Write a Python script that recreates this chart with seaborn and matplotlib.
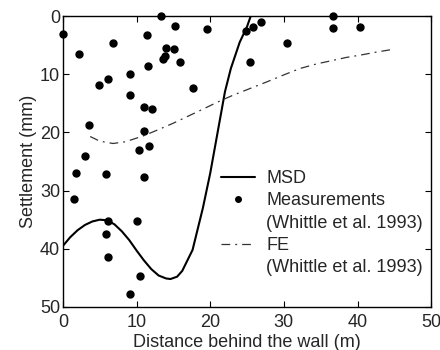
import matplotlib
matplotlib.use("Agg")
import matplotlib.pyplot as plt
from matplotlib.lines import Line2D
import seaborn as sns
import pandas as pd

# ---------------------------------------------
# Data
# ---------------------------------------------
meas_x = [0.05, 2.2, 6.75, 13.3, 15.2, 19.5, 11.4, 14.0, 15.1, 13.8, 13.6, 15.9,
          11.5, 9.15, 6.1, 4.85, 9.15, 17.6, 11.0, 12.1, 3.6, 11.0, 11.7, 10.3,
          3.0, 1.8, 5.9, 11.0, 1.55, 6.1, 10.1, 5.9, 6.1, 10.4, 9.05,
          24.8, 25.8, 26.9, 25.4, 30.4, 36.6, 36.6, 40.3]
meas_y = [3.0, 6.6, 4.6, 0.0, 1.7, 2.2, 3.3, 5.4, 5.6, 6.8, 7.3, 7.9,
          8.5, 9.9, 10.8, 11.9, 13.5, 12.3, 15.7, 16.0, 18.8, 19.8, 22.3, 23.1,
          24.1, 26.9, 27.2, 27.6, 31.4, 35.3, 35.2, 37.5, 41.4, 44.7, 47.8,
          2.6, 1.8, 1.0, 7.9, 4.7, 0.0, 2.0, 1.9]

msd_x = [0, 1, 2, 3, 4, 5, 6, 7, 8, 9, 10, 11, 12, 13, 14, 14.6, 15.5, 16.2,
         17.6, 19, 20, 21, 22, 22.8, 24, 25, 25.5]
msd_y = [39.5, 38.0, 36.8, 35.9, 35.3, 35.0, 35.1, 35.8, 37.0, 38.5, 40.3, 42.0,
         43.5, 44.6, 45.1, 45.2, 44.8, 43.8, 40.2, 33.0, 27.0, 20.0, 13.0, 9.0,
         4.5, 1.8, 0.0]

fe_x = [3.7, 5, 6.8, 8.5, 10.9, 13, 15, 17, 19, 21.3, 23.1, 25.5, 27.7, 30,
        32.2, 34.5, 36.7, 38.5, 40.4, 42.5, 44.4]
fe_y = [20.7, 21.5, 21.9, 21.6, 20.6, 19.5, 18.4, 17.2, 16.0, 14.6, 13.6, 12.4,
        11.3, 10.1, 9.0, 8.2, 7.6, 7.1, 6.7, 6.2, 5.8]

ticks = [0, 10, 20, 30, 40, 50]
source = "(Whittle et al. 1993)"

# ---------------------------------------------
# Style
# ---------------------------------------------
sns.set_style("ticks")
plt.rcParams["font.family"] = ["Liberation Sans", "DejaVu Sans"]
plt.rcParams["font.size"] = 13

DASHDOT = (0, (7, 4, 1.5, 4))

fig = plt.figure(figsize=(4.4, 3.5), dpi=100)
ax = fig.add_axes([0.143, 0.123, 0.837, 0.831])

msd = pd.DataFrame({"x": msd_x, "y": msd_y})
fe = pd.DataFrame({"x": fe_x, "y": fe_y})
meas = pd.DataFrame({"x": meas_x, "y": meas_y})

sns.lineplot(data=msd, x="x", y="y", ax=ax, color="black", lw=1.5,
             sort=False, legend=False)
ax.plot(meas["x"], meas["y"], "o", color="black", ms=5, clip_on=False,
        zorder=3)
sns.lineplot(data=fe, x="x", y="y", ax=ax, color="#333333", lw=0.9,
             sort=False, legend=False)
ax.lines[-1].set_linestyle(DASHDOT)

ax.set_xlim(0, 50)
ax.set_ylim(50, 0)
ax.set_xticks(ticks)
ax.set_yticks(ticks)
ax.tick_params(direction="in", length=4, top=True, right=True, labelsize=13,
               color="black")
ax.tick_params(axis="x", pad=5)
ax.tick_params(axis="y", pad=2)
for s in ax.spines.values():
    s.set_color("black")
    s.set_linewidth(1.0)

ax.set_xlabel("Distance behind the wall (m)", fontsize=13, labelpad=2)
ax.set_ylabel("Settlement (mm)", fontsize=13, labelpad=2)

# legend: handles sit on the first line of each entry
blank = Line2D([], [], color="none")
handles = [
    Line2D([], [], color="black", lw=1.5),
    Line2D([], [], color="black", marker="o", ms=4, ls="none"),
    blank,
    Line2D([], [], color="#333333", lw=0.9, ls=DASHDOT),
    blank,
]
labels = ["MSD", "Measurements", source, "FE", source]
ax.legend(handles, labels, loc="upper left", bbox_to_anchor=(0.41, 0.495),
          frameon=False, fontsize=13, handlelength=1.9, handletextpad=0.6,
          labelspacing=0.29, borderaxespad=0)

plt.savefig("out.png", dpi=100)
plt.close()
